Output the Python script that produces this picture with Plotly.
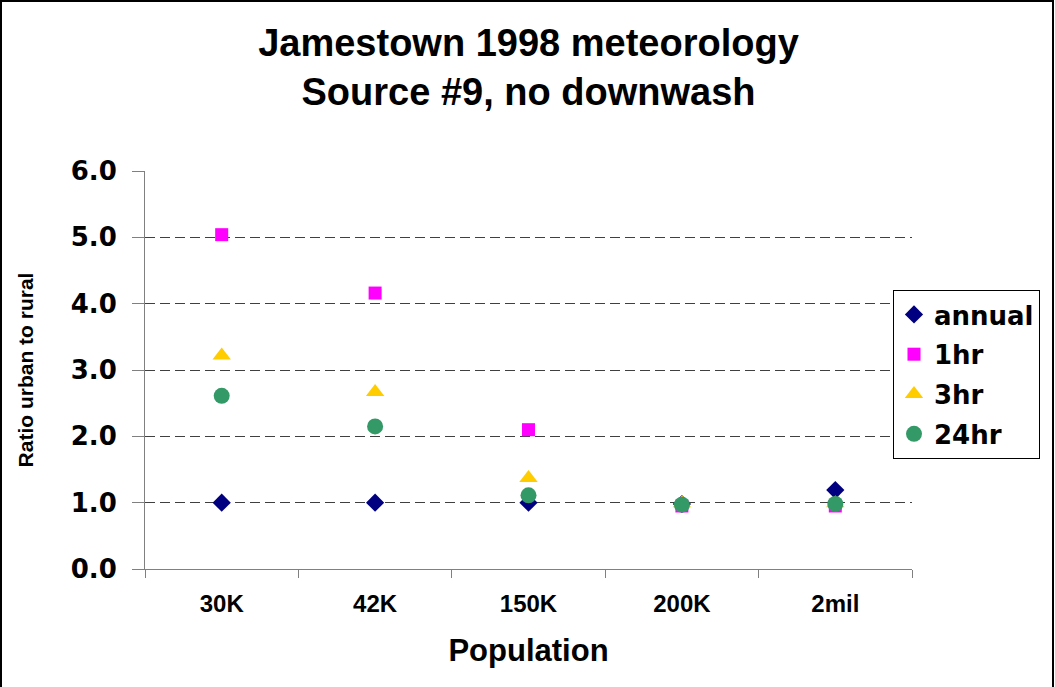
import plotly.graph_objects as go

categories = ["30K", "42K", "150K", "200K", "2mil"]
annual = [1.0, 1.0, 1.0, 0.98, 1.19]
hr1 = [5.04, 4.16, 2.10, 0.95, 0.95]
hr3 = [3.22, 2.67, 1.37, 0.99, 0.99]
hr24 = [2.61, 2.15, 1.11, 0.97, 0.98]

series = [
    ("annual", annual, "diamond", "#000080", 14),
    ("1hr", hr1, "square", "#FF00FF", 13),
    ("3hr", hr3, "triangle-up", "#FFCC00", 16),
    ("24hr", hr24, "circle", "#339966", 16),
]

fig = go.Figure()
for name, vals, sym, col, sz in series:
    fig.add_trace(go.Scatter(
        x=categories, y=vals, mode="markers", name=name, legendgroup=name,
        marker=dict(symbol=sym, color=col, size=sz, line=dict(width=0)),
    ))

L, R, T, B = 145, 143, 171, 118
W, H = 1055, 687
pw, ph = W - L - R, H - T - B

ARIAL = "Liberation Sans, Arial, sans-serif"
WIDE = "DejaVu Sans, Verdana, sans-serif"

fig.update_layout(
    width=W, height=H,
    margin=dict(l=L, r=R, t=T, b=B),
    paper_bgcolor="white", plot_bgcolor="white",
    font=dict(family=ARIAL, color="black"),
    title=dict(
        text="<b>Jamestown 1998 meteorology<br>Source #9, no downwash</b>",
        x=0.5, xanchor="center", xref="paper",
        y=1 - 56 / H, yref="container", yanchor="middle",
        font=dict(size=38, color="black", family=ARIAL),
    ),
    xaxis=dict(
        type="category", range=[-0.5, 4.5],
        showline=True, linecolor="#808080", linewidth=1,
        ticks="outside", tickson="boundaries", ticklen=8, tickcolor="#808080",
        ticklabelstandoff=13,
        tickfont=dict(size=24, color="black", weight="bold", family=ARIAL),
        title=dict(text="<b>Population</b>", font=dict(size=31, family=ARIAL), standoff=23),
        showgrid=False,
    ),
    yaxis=dict(
        range=[0, 6], dtick=1, tickformat=".1f",
        showline=True, linecolor="#808080", linewidth=1,
        ticks="outside", ticklen=12, tickcolor="#808080",
        ticklabelstandoff=10,
        tickfont=dict(size=26, color="black", weight="bold", family=WIDE),
        title=dict(text="<b>Ratio urban to rural</b>", font=dict(size=21, family=ARIAL), standoff=31),
        showgrid=True, gridcolor="#404040", griddash="10px,5px", gridwidth=1,
        zeroline=False,
    ),
    legend=dict(
        x=(893 - L) / pw, y=(569 - 290) / ph, xanchor="left", yanchor="top",
        bordercolor="black", borderwidth=1, bgcolor="white",
        font=dict(size=26, color="black", weight="bold", family=WIDE),
        tracegroupgap=3,
    ),
    shapes=[dict(
        type="rect", xref="paper", yref="paper",
        x0=(1 - L) / pw, x1=(W - 2 - L) / pw,
        y0=(569 - (H + 5)) / ph, y1=(569 - 1) / ph,
        line=dict(color="black", width=2), fillcolor="rgba(0,0,0,0)",
        layer="below",
    )],
)

fig.write_html(
    "out.html",
    config={"displayModeBar": False},
    post_script="document.body.style.margin='0';document.body.style.overflow='hidden';",
)
